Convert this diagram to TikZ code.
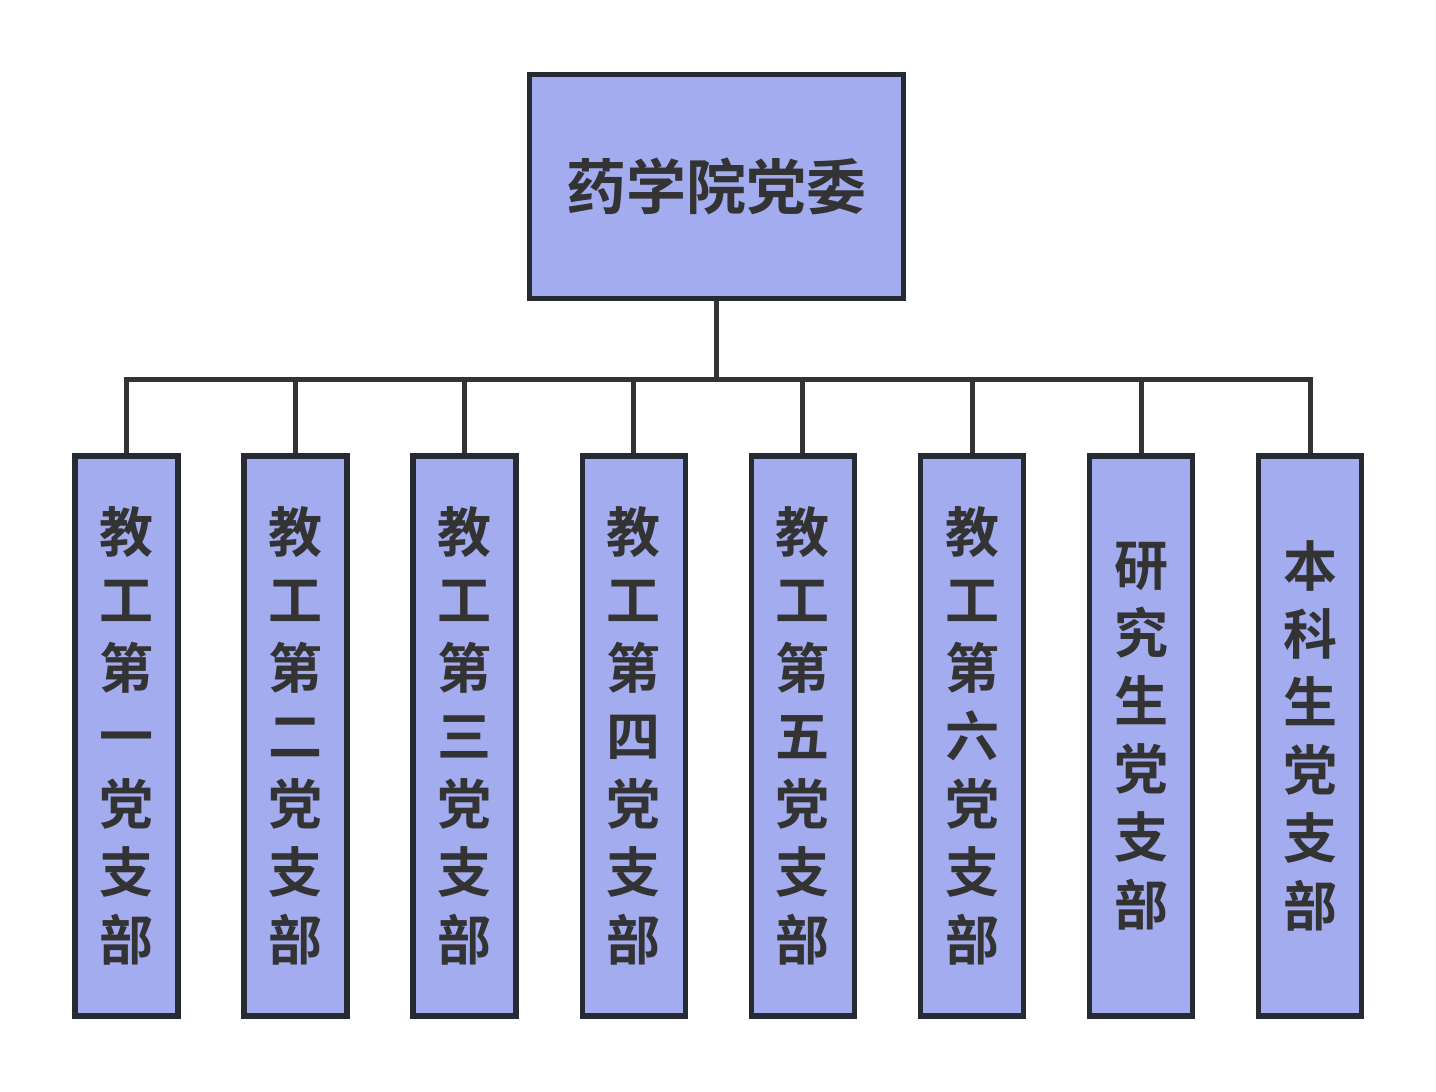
\documentclass[tikz,border=0pt]{standalone}
\usepackage{fontspec}
\newfontfamily\cjk{Noto Sans CJK SC}[BoldFont={* Bold}]
\definecolor{boxfill}{HTML}{A4ACF0}
\definecolor{boxline}{HTML}{252A33}
\definecolor{txt}{HTML}{333333}
\definecolor{conn}{HTML}{333333}
\begin{document}
\begin{tikzpicture}[x=1pt,y=-1pt,
  topbox/.style={draw=boxline, fill=boxfill, line width=5pt, rectangle, inner sep=0pt,
    minimum width=374pt, minimum height=224pt, text=txt,
    font=\cjk\bfseries\fontsize{60}{68}\selectfont},
  branch/.style={draw=boxline, fill=boxfill, line width=5.5pt, rectangle, inner sep=0pt,
    minimum width=103pt, minimum height=560pt, text=txt, align=center,
    font=\cjk\bfseries\fontsize{54}{68}\selectfont},
  link/.style={draw=conn, line width=5pt, line join=miter}]
\useasboundingbox[fill=white] (0,0) rectangle (1436,1092);
\node[topbox] (top) at (716.5,186.5) {药学院党委};
\node[branch] (c1) at (126.5,736) {教\\工\\第\\一\\党\\支\\部};
\node[branch] (c2) at (295.6,736) {教\\工\\第\\二\\党\\支\\部};
\node[branch] (c3) at (464.7,736) {教\\工\\第\\三\\党\\支\\部};
\node[branch] (c4) at (633.8,736) {教\\工\\第\\四\\党\\支\\部};
\node[branch] (c5) at (802.9,736) {教\\工\\第\\五\\党\\支\\部};
\node[branch] (c6) at (972.0,736) {教\\工\\第\\六\\党\\支\\部};
\node[branch] (c7) at (1141.1,736) {研\\究\\生\\党\\支\\部};
\node[branch] (c8) at (1310.2,736) {本\\科\\生\\党\\支\\部};
\coordinate (hub) at (716.5,379.5);
\draw[link] (top.south) -- (hub);
\foreach \i in {1,...,8}{
  \draw[link] (hub) -| (c\i.north);
}
\end{tikzpicture}
\end{document}
